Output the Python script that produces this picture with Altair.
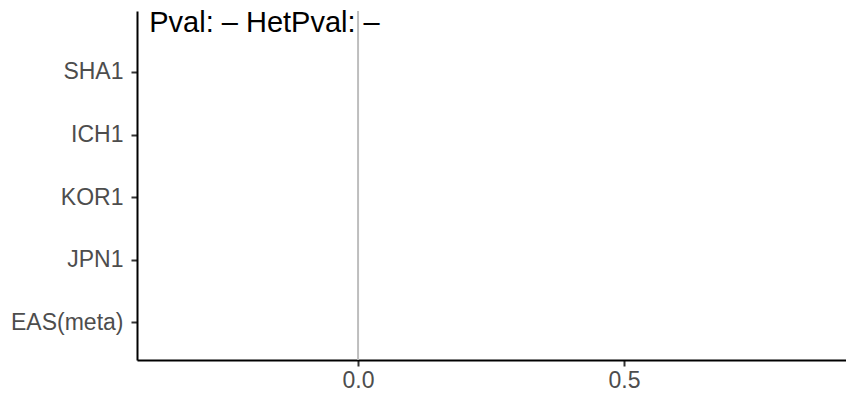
import altair as alt
import pandas as pd

# Data
categories = ["EAS(meta)", "JPN1", "KOR1", "ICH1", "SHA1"]  # bottom to top
cat_pos = [1, 2, 3, 4, 5]
x_ticks = [0.0, 0.5]
x_domain = [-0.4155, 0.9172]
y_domain = [0.4, 5.974]
ref_x = [0.0]
annot_text = ["Pval: \u2013 HetPval: \u2013"]
annot_x = [-0.3925]
annot_y = [5.643]

FONT = "Liberation Sans"

label_array = "[" + ",".join("'" + c + "'" for c in categories) + "]"
label_expr = label_array + "[datum.value - 1]"

x_scale = alt.Scale(domain=x_domain, nice=False, zero=False)
y_scale = alt.Scale(domain=y_domain, nice=False, zero=False)

x_axis = alt.Axis(
    values=x_ticks, format=".1f", title=None, grid=False,
    domainColor="black", domainWidth=2, tickColor="#333333", tickWidth=2,
    tickSize=6, labelColor="#4D4D4D", labelFontSize=23, labelFont=FONT,
    labelPadding=3,
)
y_axis = alt.Axis(
    values=cat_pos, labelExpr=label_expr, title=None, grid=False,
    domainColor="black", domainWidth=2, tickColor="#333333", tickWidth=2,
    tickSize=6, labelColor="#4D4D4D", labelFontSize=23, labelFont=FONT,
    labelPadding=8,
)

ref_df = pd.DataFrame({"x": ref_x})
rule = alt.Chart(ref_df).mark_rule(color="#BEBEBE", strokeWidth=2).encode(
    x=alt.X("x:Q", scale=x_scale, axis=x_axis),
)

axis_df = pd.DataFrame({"pos": cat_pos, "label": categories})
cats = alt.Chart(axis_df).mark_point(opacity=0).encode(
    x=alt.value(0),
    y=alt.Y("pos:Q", scale=y_scale, axis=y_axis),
)

annot_df = pd.DataFrame({"x": annot_x, "y": annot_y, "t": annot_text})
text = alt.Chart(annot_df).mark_text(
    align="left", baseline="alphabetic", fontSize=29, font=FONT, color="black"
).encode(
    x=alt.X("x:Q", scale=x_scale),
    y=alt.Y("y:Q", scale=y_scale),
    text="t:N",
)

chart = alt.layer(rule, cats, text).properties(
    width=709, height=349,
    autosize=alt.AutoSizeParams(type="none"),
    padding={"left": 129, "top": 3, "right": 0, "bottom": 34},
).configure(background="white").configure_view(stroke=None)

chart.save("out.html", embed_options={"renderer": "svg", "actions": False})
